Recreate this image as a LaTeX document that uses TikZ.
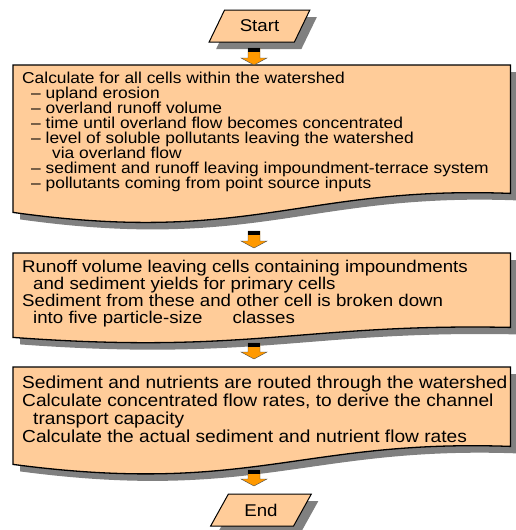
\documentclass[tikz,border=0pt]{standalone}
\usepackage{fontspec}
\newfontfamily\boxfont[FakeStretch=1.1]{Liberation Sans}
\usetikzlibrary{shapes.geometric,shadows,calc}

\definecolor{peach}{HTML}{FFCC99}
\definecolor{arroworange}{HTML}{FF9900}
\definecolor{shadowgray}{HTML}{808080}

\tikzset{
  boxshadow/.style={drop shadow={shadow xshift=7pt, shadow yshift=-7pt, fill=shadowgray, opacity=1}},
  io/.style={trapezium, trapezium left angle=54, trapezium right angle=126, trapezium stretches=true,
    draw, line width=1pt, fill=peach, boxshadow, minimum width=101pt, minimum height=32pt,
    inner sep=0pt, font=\boxfont\fontsize{17}{18}\selectfont},
  box/.style={rectangle, draw=none, inner sep=0pt, anchor=north west, minimum width=497pt},
  txt/.style={anchor=north west, align=left, inner sep=0pt},
}

% document shape with a wavy bottom, #2 = drop at the left end
\newcommand\docbox[2]{%
  \filldraw[line width=1.3pt, fill=peach, boxshadow]
    (#1.north west) -- (#1.north east) -- (#1.south east)
    .. controls +(-209,{-0.42*#2}) and +(237,{1.74*#2}) .. ($(#1.south west)+(0,#2)$) -- cycle;}

% orange block arrow from #1 (top) to #2 (tip)
\newcommand\flowarrow[2]{%
  \filldraw[fill=arroworange, draw=black!70, line width=0.4pt]
    ($(#1)+(-6,0)$) -- ($(#1)+(6,0)$) -- ($(#2)+(6,-7)$) -- ($(#2)+(13,-7)$) -- (#2)
    -- ($(#2)+(-13,-7)$) -- ($(#2)+(-6,-7)$) -- cycle;
  \fill ($(#1)+(-6,0)$) rectangle ($(#1)+(6,4)$);}

% first line starts 13pt above its baseline
\newcommand\topline{\rule{0pt}{13pt}}

\begin{document}
\begin{tikzpicture}[x=1pt, y=-1pt]
\useasboundingbox (0,0) rectangle (515,530);

\node[io] (start) at (259.5,26) {Start};

\node[box, minimum height=128pt] (b1) at (13,65) {};
\docbox{b1}{19}
\node[txt, font=\boxfont\fontsize{15.8}{15}\selectfont] (t1) at ([shift={(9,5)}]b1.north west)
  {\topline Calculate for all cells within the watershed\\
   \hspace*{9pt}– upland erosion\\
   \hspace*{9pt}– overland runoff volume\\
   \hspace*{9pt}– time until overland flow becomes concentrated\\
   \hspace*{9pt}– level of soluble pollutants leaving the watershed\\
   \hspace*{30pt}via overland flow\\
   \hspace*{9pt}– sediment and runoff leaving impoundment-terrace system\\
   \hspace*{9pt}– pollutants coming from point source inputs};

\node[box, minimum height=74pt] (b2) at (13,253) {};
\docbox{b2}{10}
\node[txt, font=\boxfont\fontsize{17}{17}\selectfont] (t2) at ([shift={(9,6)}]b2.north west)
  {\topline Runoff volume leaving cells containing impoundments\\
   \hspace*{11pt}and sediment yields for primary cells\\
   Sediment from these and other cell is broken down\\
   \hspace*{11pt}into five particle-size\hspace{30pt}classes};

\node[box, minimum height=79pt] (b3) at (13,367) {};
\docbox{b3}{18}
\node[txt, font=\boxfont\fontsize{17.4}{18}\selectfont] (t3) at ([shift={(9,8)}]b3.north west)
  {\topline Sediment and nutrients are routed through the watershed\\
   Calculate concentrated flow rates, to derive the channel\\
   \hspace*{11pt}transport capacity\\
   Calculate the actual sediment and nutrient flow rates};

\node[io] (end) at (261,510) {End};

\coordinate (a1s) at (254,48);  \coordinate (a1e) at (254,65);
\coordinate (a2s) at (254,231); \coordinate (a2e) at (254,248);
\coordinate (a3s) at (254,343); \coordinate (a3e) at (254,359);
\coordinate (a4s) at (254,470); \coordinate (a4e) at (254,486);
\flowarrow{a1s}{a1e}
\flowarrow{a2s}{a2e}
\flowarrow{a3s}{a3e}
\flowarrow{a4s}{a4e}
\end{tikzpicture}
\end{document}
